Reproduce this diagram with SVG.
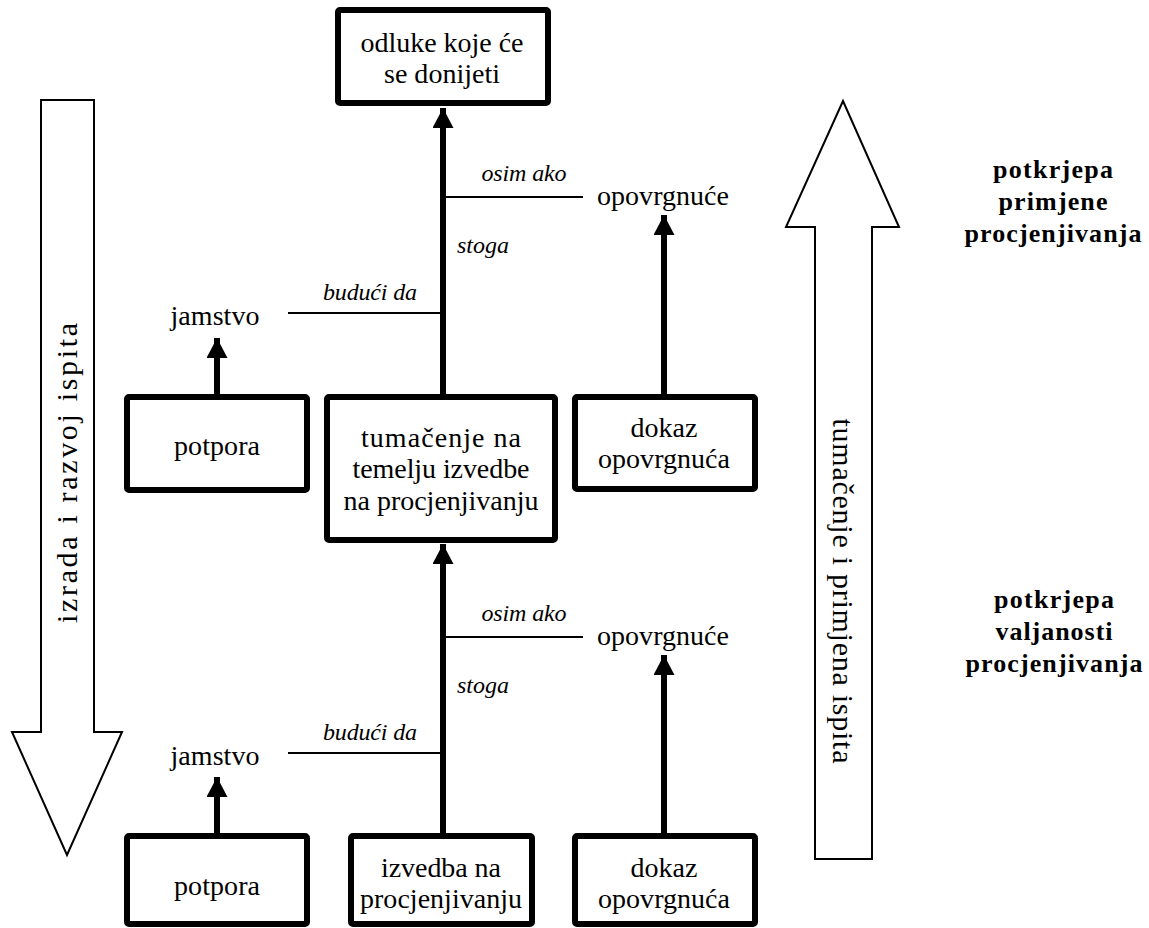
<svg xmlns="http://www.w3.org/2000/svg" width="1149" height="928" viewBox="0 0 1149 928" font-family="'Liberation Serif', 'Times New Roman', serif">
<style>
.box{fill:#fff;stroke:#000;stroke-width:6}
.big{fill:#fff;stroke:#000;stroke-width:2;stroke-linejoin:miter}
.thick{stroke:#000;stroke-width:6;fill:none}
.thin{stroke:#000;stroke-width:2;fill:none}
text{font-family:"Liberation Serif","Times New Roman",serif;fill:#000}
.t{font-size:28px;text-anchor:middle}
.r{font-size:30px;text-anchor:middle}
.i{font-size:24px;font-style:italic}
.b{font-size:26px;font-weight:bold;text-anchor:middle}
</style>
<defs>
<marker id="ah" markerUnits="userSpaceOnUse" markerWidth="22" markerHeight="22" refX="20" refY="10.5" orient="auto">
<path d="M0,0 L20,10.5 L0,21 Z" fill="#000"/>
</marker>
</defs>
<rect width="1149" height="928" fill="#fff"/>
<g id="arrow-izrada">
<polygon class="big" points="41,100 94,100 94,732 122,732 67,855 12,732 41,732"/>
<text class="r" transform="translate(77,473) rotate(-90)" textLength="300" lengthAdjust="spacing">izrada i razvoj ispita</text>
</g>
<g id="arrow-tumacenje">
<polygon class="big" points="843,101 899,227 872,227 872,859 815,859 815,227 786,227"/>
<text class="r" transform="translate(833,591) rotate(90)" textLength="345" lengthAdjust="spacing">tumačenje i primjena ispita</text>
</g>
<g id="connectors">
<line class="thick" x1="443" y1="394" x2="443" y2="108" marker-end="url(#ah)"/>
<line class="thick" x1="443" y1="833" x2="443" y2="544" marker-end="url(#ah)"/>
<line class="thick" x1="217" y1="396" x2="217" y2="338" marker-end="url(#ah)"/>
<line class="thick" x1="217" y1="833" x2="217" y2="777" marker-end="url(#ah)"/>
<line class="thick" x1="664" y1="394" x2="664" y2="215" marker-end="url(#ah)"/>
<line class="thick" x1="664" y1="833" x2="664" y2="655" marker-end="url(#ah)"/>
<line class="thin" x1="288" y1="313" x2="443" y2="313"/>
<line class="thin" x1="443" y1="197" x2="583" y2="197"/>
<line class="thin" x1="288" y1="753" x2="443" y2="753"/>
<line class="thin" x1="443" y1="637" x2="583" y2="637"/>
<text class="i" x="524" y="181" text-anchor="middle" textLength="85" lengthAdjust="spacing">osim ako</text>
<text class="i" x="457" y="253" textLength="52" lengthAdjust="spacing">stoga</text>
<text class="i" x="370" y="300" text-anchor="middle" textLength="94" lengthAdjust="spacing">budući da</text>
<text class="i" x="524" y="621" text-anchor="middle" textLength="85" lengthAdjust="spacing">osim ako</text>
<text class="i" x="457" y="693" textLength="52" lengthAdjust="spacing">stoga</text>
<text class="i" x="370" y="740" text-anchor="middle" textLength="94" lengthAdjust="spacing">budući da</text>
</g>
<g id="odluke">
<rect class="box" x="338" y="10" width="210" height="93" rx="2"/>
<text class="t" x="442" y="52" textLength="163" lengthAdjust="spacing">odluke koje će</text>
<text class="t" x="442" y="83" textLength="116" lengthAdjust="spacing">se donijeti</text>
</g>
<g id="jamstvo-1"><text class="t" x="215" y="325" textLength="89" lengthAdjust="spacing">jamstvo</text></g>
<g id="opovrgnuce-1"><text class="t" x="663" y="205" textLength="132" lengthAdjust="spacing">opovrgnuće</text></g>
<g id="potpora-1">
<rect class="box" x="127" y="397" width="180" height="93" rx="2"/>
<text class="t" x="217" y="455" textLength="86" lengthAdjust="spacing">potpora</text>
</g>
<g id="tumacenje">
<rect class="box" x="327" y="397" width="228" height="143" rx="2"/>
<text class="t" x="441" y="447" textLength="160" lengthAdjust="spacing">tumačenje na</text>
<text class="t" x="441" y="478" textLength="177" lengthAdjust="spacing">temelju izvedbe</text>
<text class="t" x="441" y="510" textLength="195" lengthAdjust="spacing">na procjenjivanju</text>
</g>
<g id="dokaz-1">
<rect class="box" x="575" y="397" width="180" height="92" rx="2"/>
<text class="t" x="664" y="437" textLength="67" lengthAdjust="spacing">dokaz</text>
<text class="t" x="664" y="468" textLength="132" lengthAdjust="spacing">opovrgnuća</text>
</g>
<g id="jamstvo-2"><text class="t" x="215" y="765" textLength="89" lengthAdjust="spacing">jamstvo</text></g>
<g id="opovrgnuce-2"><text class="t" x="663" y="645" textLength="132" lengthAdjust="spacing">opovrgnuće</text></g>
<g id="potpora-2">
<rect class="box" x="127" y="836" width="180" height="88" rx="2"/>
<text class="t" x="217" y="895" textLength="86" lengthAdjust="spacing">potpora</text>
</g>
<g id="izvedba">
<rect class="box" x="351" y="836" width="181" height="88" rx="2"/>
<text class="t" x="441" y="877" textLength="120" lengthAdjust="spacing">izvedba na</text>
<text class="t" x="441" y="908" textLength="162" lengthAdjust="spacing">procjenjivanju</text>
</g>
<g id="dokaz-2">
<rect class="box" x="575" y="836" width="180" height="88" rx="2"/>
<text class="t" x="664" y="877" textLength="67" lengthAdjust="spacing">dokaz</text>
<text class="t" x="664" y="908" textLength="132" lengthAdjust="spacing">opovrgnuća</text>
</g>
<g id="label-primjene">
<text class="b" x="1053" y="178" textLength="120" lengthAdjust="spacing">potkrjepa</text>
<text class="b" x="1053" y="210" textLength="109" lengthAdjust="spacing">primjene</text>
<text class="b" x="1053" y="242" textLength="177" lengthAdjust="spacing">procjenjivanja</text>
</g>
<g id="label-valjanosti">
<text class="b" x="1054" y="608" textLength="120" lengthAdjust="spacing">potkrjepa</text>
<text class="b" x="1054" y="640" textLength="117" lengthAdjust="spacing">valjanosti</text>
<text class="b" x="1054" y="672" textLength="177" lengthAdjust="spacing">procjenjivanja</text>
</g>
</svg>
